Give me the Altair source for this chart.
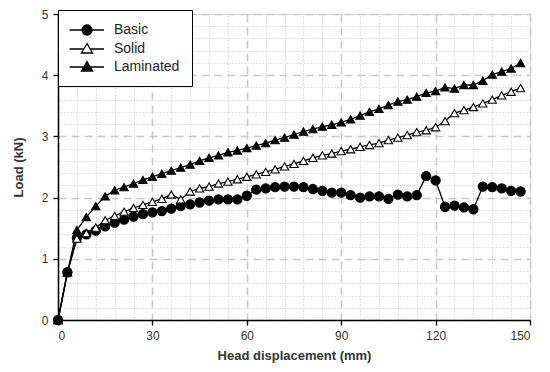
import altair as alt
import pandas as pd

x_mm = list(range(0, 150, 3))
series = ["Basic", "Solid", "Laminated"]

basic = [0.00, 0.78, 1.34, 1.40, 1.46, 1.53, 1.59, 1.64, 1.69, 1.73,
         1.76, 1.78, 1.82, 1.86, 1.89, 1.92, 1.95, 1.97, 1.97, 1.97,
         2.03, 2.13, 2.15, 2.17, 2.18, 2.18, 2.17, 2.14, 2.11, 2.08,
         2.08, 2.04, 2.00, 2.02, 2.02, 1.98, 2.05, 2.02, 2.04, 2.35,
         2.28, 1.85, 1.87, 1.84, 1.81, 2.18, 2.17, 2.15, 2.11, 2.10]
solid = [0.00, 0.78, 1.33, 1.42, 1.51, 1.63, 1.70, 1.77, 1.83, 1.88,
         1.93, 1.98, 2.05, 1.97, 2.10, 2.15, 2.18, 2.23, 2.26, 2.30,
         2.34, 2.38, 2.42, 2.46, 2.51, 2.55, 2.60, 2.65, 2.69, 2.72,
         2.76, 2.79, 2.83, 2.86, 2.89, 2.94, 2.98, 3.02, 3.07, 3.10,
         3.15, 3.25, 3.38, 3.43, 3.48, 3.54, 3.60, 3.67, 3.73, 3.79]
laminated = [0.00, 0.78, 1.47, 1.68, 1.86, 2.02, 2.12, 2.17, 2.23, 2.29,
             2.34, 2.39, 2.44, 2.49, 2.54, 2.60, 2.65, 2.69, 2.74, 2.77,
             2.81, 2.85, 2.89, 2.94, 2.98, 3.03, 3.08, 3.12, 3.16, 3.19,
             3.23, 3.28, 3.34, 3.40, 3.45, 3.51, 3.57, 3.60, 3.65, 3.71,
             3.74, 3.80, 3.78, 3.84, 3.84, 3.91, 4.01, 4.06, 4.11, 4.20]

x_major = [0, 30, 60, 90, 120, 150]
x_minor = [v for v in range(0, 151, 6) if v % 30 != 0]
y_major = [0, 1, 2, 3, 4, 5]
y_minor = [round(v * 0.2, 1) for v in range(26) if v % 5 != 0]

marker_shapes = ["circle", "triangle-up", "triangle-up"]
marker_fills = ["black", "white", "black"]
# legend glyphs: a line segment with the marker on it
legend_paths = [
    "M-1.2,0H0.572M2.0,0H3.714M0.572,0A0.714,0.714 0 1,0 2.0,0A0.714,0.714 0 1,0 0.572,0Z",
    "M-1.2,0H0.831M1.741,0H3.714M1.286,-0.786L2.072,0.571L0.5,0.571Z",
    "M-1.2,0H0.831M1.741,0H3.714M1.286,-0.786L2.072,0.571L0.5,0.571Z",
]

rows = []
for name, vals in zip(series, [basic, solid, laminated]):
    for xv, yv in zip(x_mm, vals):
        rows.append({"x": xv, "y": yv, "series": name})
df = pd.DataFrame(rows)

FONT = "Liberation Sans"
xs = alt.Scale(domain=[0, 150], nice=False)
ys = alt.Scale(domain=[0, 5], nice=False)

base = alt.Chart(df)

minor = base.mark_line(opacity=0).encode(
    x=alt.X("x:Q", scale=xs, axis=alt.Axis(orient="top", values=x_minor, grid=True,
            gridDash=[1, 2], gridColor="#c4c4c4", gridWidth=1, domain=False,
            ticks=False, labels=False, title=None)),
    y=alt.Y("y:Q", scale=ys, axis=alt.Axis(orient="right", values=y_minor, grid=True,
            gridDash=[1, 2], gridColor="#c4c4c4", gridWidth=1, domain=False,
            ticks=False, labels=False, title=None)),
    detail="series:N",
)

lines = base.mark_line(color="black", strokeWidth=1.3).encode(
    x=alt.X("x:Q", scale=xs, axis=alt.Axis(
        orient="bottom", values=x_major, grid=True, gridDash=[8, 5], gridColor="#c8c8c8",
        gridWidth=1.5, tickSize=5, tickColor="black", tickWidth=1.3,
        domainColor="black", domainWidth=1.5, labelFont=FONT, labelFontSize=12,
        labelColor="#333333", labelPadding=5, title="Head displacement (mm)",
        titleFont=FONT, titleFontSize=13, titleFontWeight="bold", titleColor="#333333",
        titlePadding=8)),
    y=alt.Y("y:Q", scale=ys, axis=alt.Axis(
        orient="left", values=y_major, grid=True, gridDash=[8, 5], gridColor="#c8c8c8",
        gridWidth=1.5, tickSize=5, tickColor="black", tickWidth=1.3,
        domainColor="black", domainWidth=1.5, labelFont=FONT, labelFontSize=12,
        labelColor="#333333", labelPadding=5, title="Load (kN)",
        titleFont=FONT, titleFontSize=13, titleFontWeight="bold", titleColor="#333333",
        titlePadding=16)),
    detail="series:N",
)

point_layers = []
for name, shp, fl, sz in zip(series, marker_shapes, marker_fills, [85, 70, 70]):
    point_layers.append(
        base.transform_filter(alt.datum.series == name).mark_point(
            shape=shp, filled=True, fill=fl, stroke="black", strokeWidth=1.1,
            size=sz, opacity=1
        ).encode(
            x=alt.X("x:Q", scale=xs, axis=None),
            y=alt.Y("y:Q", scale=ys, axis=None),
        )
    )

legend_def = alt.Legend(
    title=None, orient="none", legendX=0, legendY=-4,
    fillColor="white", strokeColor="black", padding=12,
    symbolSize=196, symbolStrokeWidth=1.3, symbolStrokeColor="black",
    labelFont=FONT, labelFontSize=14, labelColor="#222222",
    labelOffset=28, rowPadding=2,
)

legend_layer = base.transform_filter(alt.datum.x < 0).mark_point(
    filled=True, strokeWidth=1.3, opacity=1
).encode(
    x=alt.X("x:Q", scale=xs, axis=None),
    y=alt.Y("y:Q", scale=ys, axis=None),
    shape=alt.Shape("series:N", scale=alt.Scale(domain=series, range=legend_paths),
                    legend=legend_def),
    fill=alt.Fill("series:N", scale=alt.Scale(domain=series, range=marker_fills),
                  legend=legend_def),
    stroke=alt.Stroke("series:N", scale=alt.Scale(domain=series, range=["black", "black", "black"]),
                      legend=legend_def),
)

chart = alt.layer(minor, lines, *point_layers, legend_layer).resolve_axis(
    x="independent", y="independent"
).properties(
    width=472, height=306,
    autosize=alt.AutoSizeParams(type="none"),
    padding={"left": 50, "top": 6, "right": 12, "bottom": 44},
).configure_view(stroke="#444444", strokeWidth=1.5).configure(background="white")

chart.save("out.html", embed_options={"renderer": "svg", "actions": False})
